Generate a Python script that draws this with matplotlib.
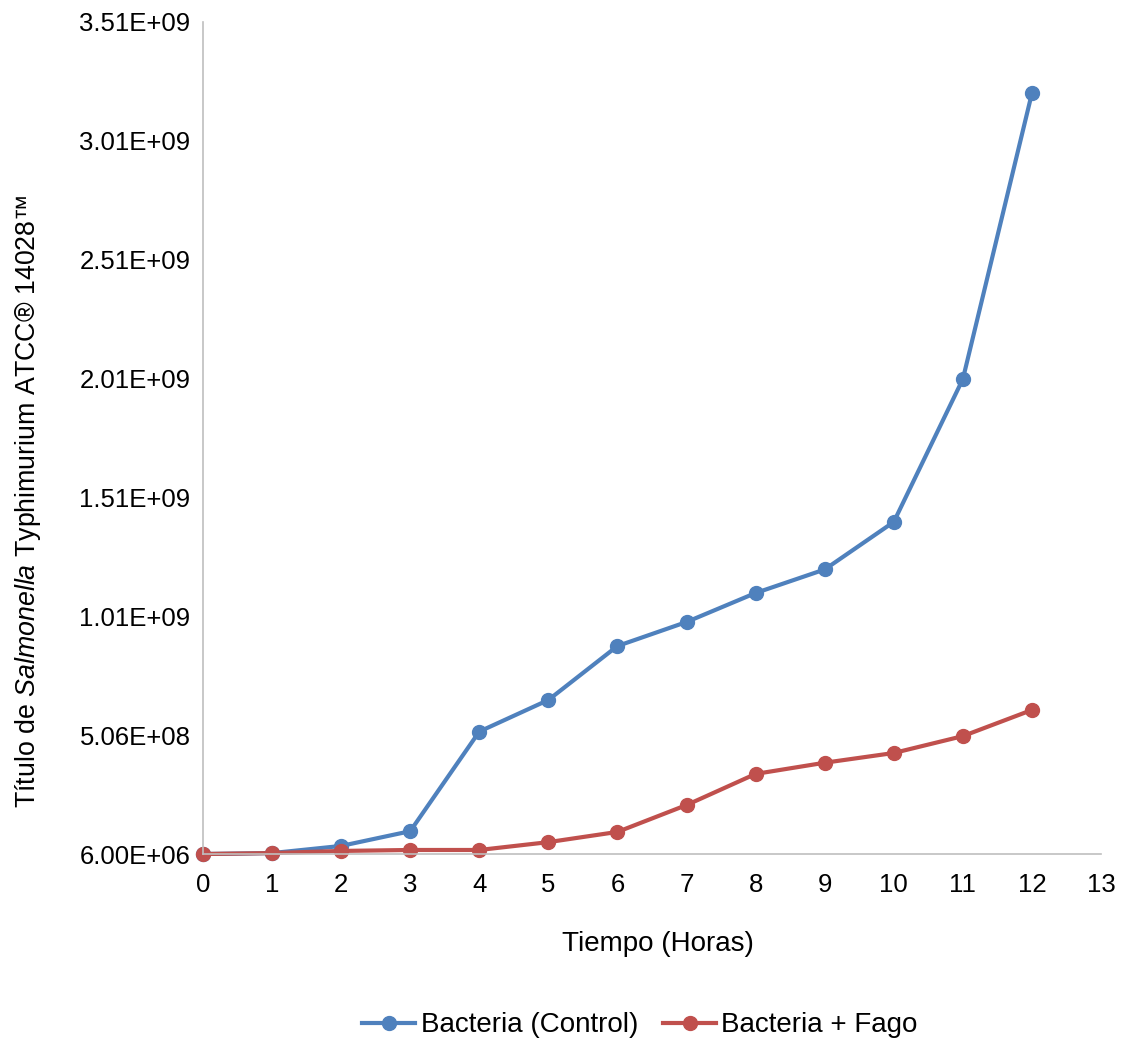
import numpy as np
import matplotlib
matplotlib.use("Agg")
import matplotlib.pyplot as plt
from matplotlib.ticker import FuncFormatter

plt.rcParams['font.family'] = ['Liberation Sans', 'DejaVu Sans']
plt.rcParams['mathtext.fontset'] = 'custom'
plt.rcParams['mathtext.rm'] = 'Liberation Sans'
plt.rcParams['mathtext.it'] = 'Liberation Sans:italic'

horas = [0, 1, 2, 3, 4, 5, 6, 7, 8, 9, 10, 11, 12]
control = [6.0e6, 1.0e7, 4.0e7, 1.02e8, 5.21e8, 6.54e8, 8.81e8, 9.82e8,
           1.104e9, 1.203e9, 1.403e9, 2.004e9, 3.207e9]
fago = [6.0e6, 1.0e7, 1.9e7, 2.3e7, 2.3e7, 5.6e7, 9.9e7, 2.12e8,
        3.43e8, 3.90e8, 4.31e8, 5.02e8, 6.12e8]

blue = '#4F81BD'
red = '#C0504D'

fig = plt.figure(figsize=(11.25, 10.42), dpi=100)
ax = fig.add_axes([0.1804, 0.1804, 0.7983, 0.7985])

ax.plot(horas, control, color=blue, lw=3, marker='o', ms=10, label='Bacteria (Control)', clip_on=False)
ax.plot(horas, fago, color=red, lw=3, marker='o', ms=10, label='Bacteria + Fago', clip_on=False)

ymin = 6.0e6
ax.set_ylim(ymin, ymin + 7 * 5e8)
ax.set_yticks([ymin + k * 5e8 for k in range(8)])
ax.yaxis.set_major_formatter(FuncFormatter(lambda v, p: f'{v:.2E}'))
ax.set_xlim(0, 13)
ax.set_xticks(range(14))

for s in ['top', 'right']:
    ax.spines[s].set_visible(False)
for s in ['left', 'bottom']:
    ax.spines[s].set_color('#BFBFBF')
    ax.spines[s].set_linewidth(1.2)
ax.tick_params(length=0, labelsize=18.5)
ax.tick_params(axis='x', pad=14)
ax.tick_params(axis='y', pad=9)

ax.set_xlabel('Tiempo (Horas)', fontsize=20, labelpad=25)
ax.xaxis.set_label_coords(0.507, -0.093)
ax.set_ylabel(r'Título de $\it{Salmonella}$ Typhimurium ATCC® 14028™', fontsize=19.3)
ax.yaxis.set_label_coords(-0.178, 0.424)

fig.legend(loc='center', bbox_to_anchor=(0.569, 0.016), ncol=2, frameon=False,
           fontsize=20, handlelength=1.9, columnspacing=0.9, handletextpad=0.2)

fig.savefig('out.png', dpi=100)
